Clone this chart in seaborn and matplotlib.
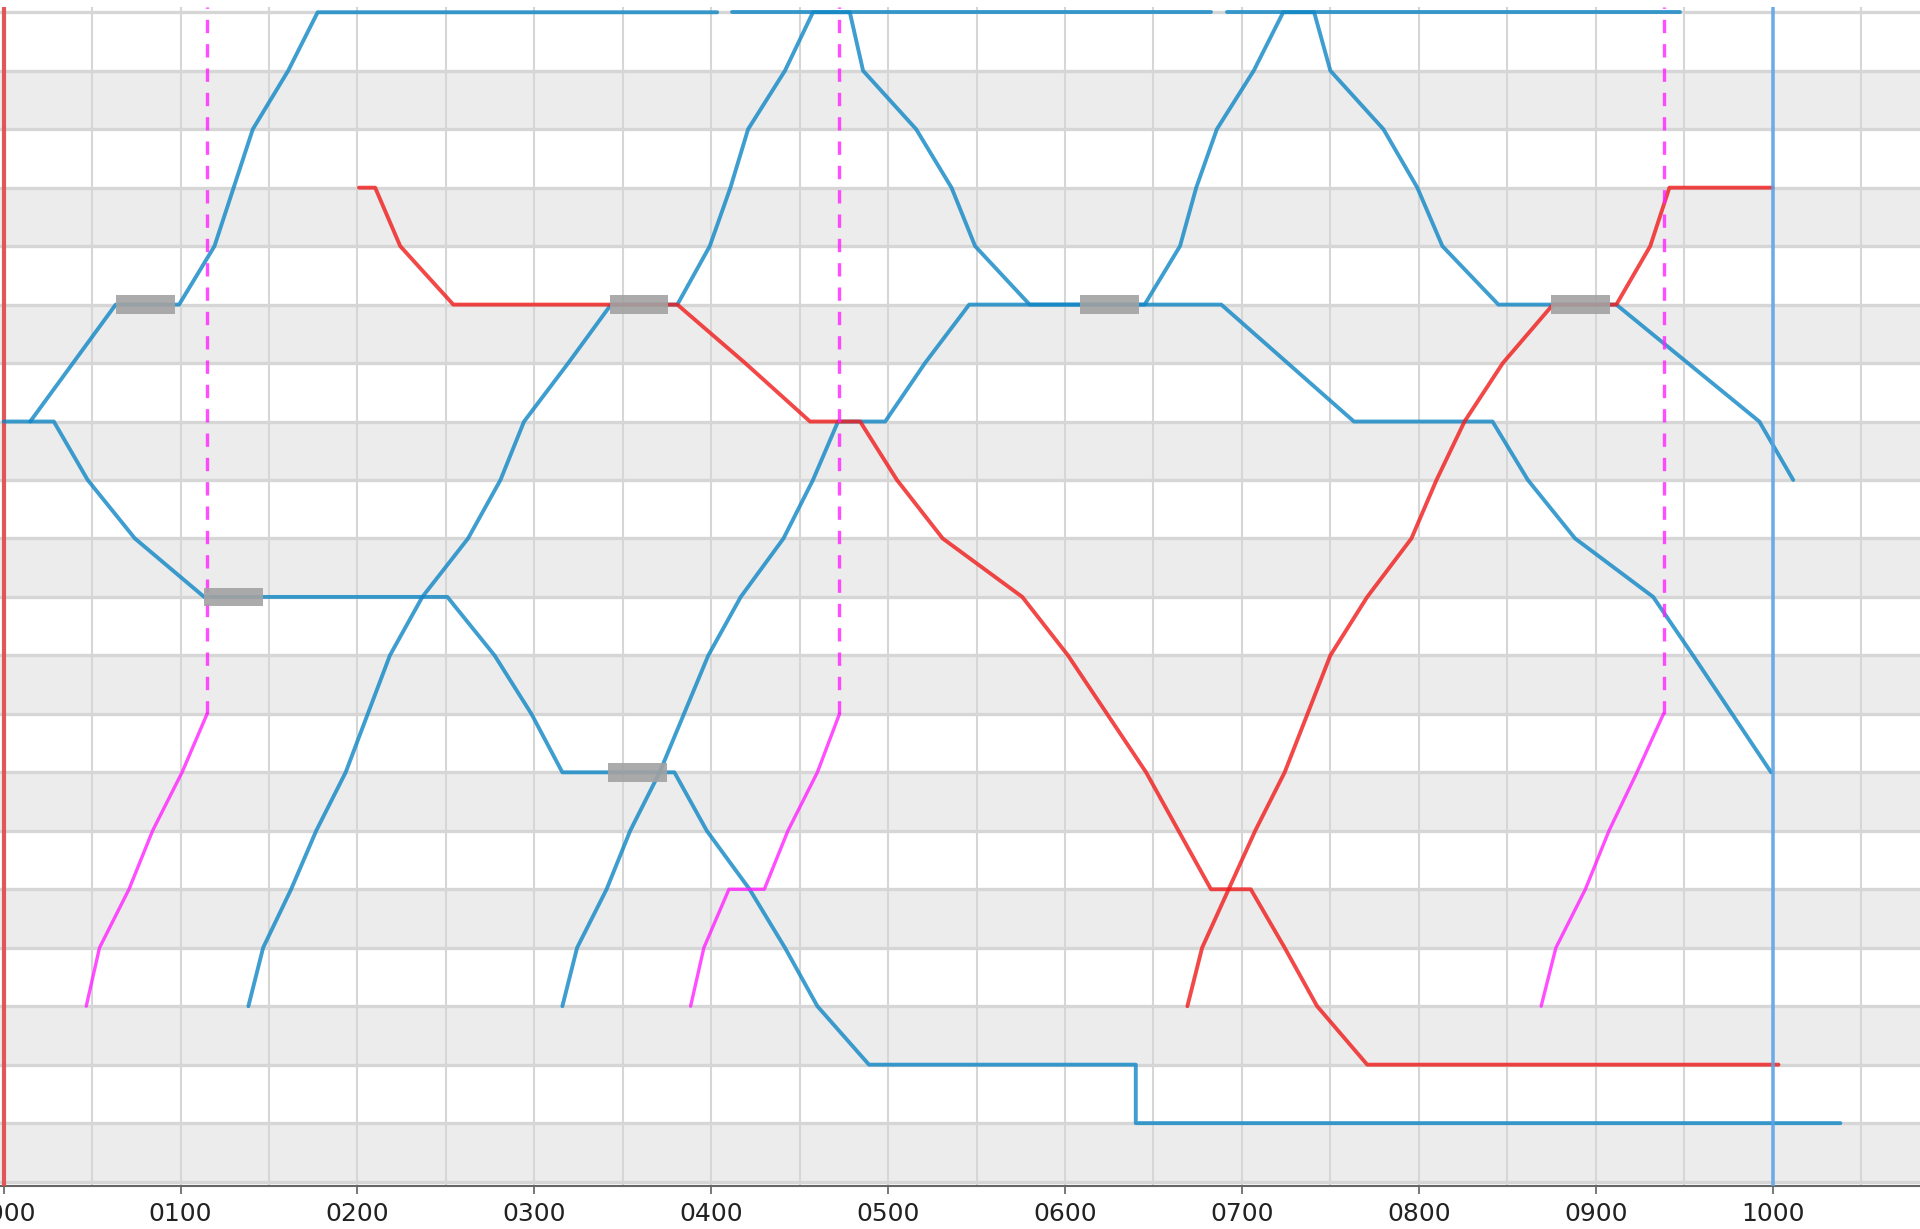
import matplotlib.pyplot as plt
import pandas as pd
import seaborn as sns
from matplotlib.ticker import FuncFormatter, MultipleLocator

# Train graph data: time in minutes after 0000, station index 0 (top) .. 20 (bottom)
B1_T = [9, 38, 59.5, 71.5, 78, 84.5, 96.5, 106.5, 242]
B1_K = [7, 5, 5, 4, 3, 2, 1, 0, 0]

B2_T = [0, 17, 28.5, 44.5, 68, 150.5, 166.5, 179, 189.5, 227.5, 238.5, 253, 265, 276,
        293.5, 384, 384, 623]
B2_K = [7, 7, 8, 9, 10, 10, 11, 12, 13, 13, 14, 15, 16, 17, 18, 18, 19, 19]

B3_T = [83, 88, 97.5, 106, 116, 131, 142, 157.5, 168.5, 176.5, 191.5, 206, 228.5,
        239.5, 246.5, 252.5, 265, 274.5, 287, 291.5, 309.5, 321.5, 329.5, 348, 387,
        399, 404.5, 411.5, 424, 434, 444.5, 450, 468, 479.5, 488, 507, 547, 595.5, 607]
B3_K = [17, 16, 15, 14, 13, 11, 10, 9, 8, 7, 6, 5, 5,
        4, 3, 2, 1, 0, 0, 1, 2, 3, 4, 5, 5,
        4, 3, 2, 1, 0, 0, 1, 2, 3, 4, 5, 5, 7, 8]

B4_T = [189.5, 194.5, 204.5, 212.5, 222.5, 239, 250, 264.5, 274.5, 283, 299, 312.5,
        327.5, 413, 458, 505, 517, 533, 559.5, 573, 599.5]
B4_K = [17, 16, 15, 14, 13, 11, 10, 9, 8, 7, 7, 6, 5, 5, 7, 7, 8, 9, 10, 11, 13]

B5_T = [247, 409.5]
B5_K = [0, 0]
B6_T = [415, 568.5]
B6_K = [0, 0]

R1_T = [120.5, 126, 134.5, 152.5, 228.5, 251.5, 273.5, 290.5, 303, 318.5, 345.5, 361,
        387.5, 398.5, 409.5, 423, 434.5, 445.5, 462.5, 602]
R1_K = [3, 3, 4, 5, 5, 6, 7, 7, 8, 9, 10, 11, 13, 14, 15, 15, 16, 17, 18, 18]

R2_T = [401.5, 406.5, 415.5, 424.5, 434.5, 450, 462.5, 477.5, 486, 495.5, 508.5, 525.5,
        547, 558.5, 565, 600]
R2_K = [17, 16, 15, 14, 13, 11, 10, 9, 8, 7, 6, 5, 5, 4, 3, 3]

M1_T = [28, 32.5, 42.5, 50.5, 60.5, 69]
M1_K = [17, 16, 15, 14, 13, 12]
M2_T = [233, 237.5, 246, 258, 266, 276, 283.5]
M2_K = [17, 16, 15, 15, 14, 13, 12]
M3_T = [521.5, 526.5, 536.5, 544.5, 554, 563]
M3_K = [17, 16, 15, 14, 13, 12]

# grey dwell blocks (start minute, station)
BLOCK_START = [38, 68, 205.5, 205, 365, 525]
BLOCK_K = [5, 10, 5, 13, 5, 5]
BLOCK_LEN = 20

START_T = 0
END_T = 600
N_STATIONS = 20

trains = {
    'B1': ('blue', B1_T, B1_K), 'B2': ('blue', B2_T, B2_K),
    'B3': ('blue', B3_T, B3_K), 'B4': ('blue', B4_T, B4_K),
    'B5': ('blue', B5_T, B5_K), 'B6': ('blue', B6_T, B6_K),
    'R1': ('red', R1_T, R1_K), 'R2': ('red', R2_T, R2_K),
    'M1': ('magenta', M1_T, M1_K), 'M2': ('magenta', M2_T, M2_K),
    'M3': ('magenta', M3_T, M3_K),
}
rows = []
for name, (kind, ts, ks) in trains.items():
    for t, k in zip(ts, ks):
        rows.append({'train': name, 'kind': kind, 't': t, 'k': k})
df = pd.DataFrame(rows)

palette = {'blue': '#0f86c5', 'red': '#f11a1a', 'magenta': '#ff20ff'}

sns.set_theme(style='white')
plt.rcParams['font.family'] = ['DejaVu Sans']

fig = plt.figure(figsize=(19.2, 12.29), dpi=100)
ax = fig.add_axes([0, 0.035, 1, 0.9595])

y_top = -0.094
ax.set_xlim(-1.25, 650)
ax.set_ylim(N_STATIONS + 0.075, y_top)

# alternating bands
for k in range(1, N_STATIONS, 2):
    ax.axhspan(k, k + 1, color='#ececec', zorder=0, lw=0)

ax.set_axisbelow(True)
ax.set_yticks(range(N_STATIONS + 1))
ax.xaxis.set_major_locator(MultipleLocator(60))
ax.xaxis.set_minor_locator(MultipleLocator(30))
ax.xaxis.set_major_formatter(FuncFormatter(lambda v, p: f'{int(round(v)) // 60:02d}00'))
ax.grid(axis='y', color='#d6d6d6', lw=2.4)
ax.grid(axis='x', which='both', color='#d6d6d6', lw=1.5)

ax.axvline(START_T, color='#e04848', lw=3.0, alpha=0.9, zorder=3)

solid = df[df['kind'] != 'magenta']
sns.lineplot(data=solid, x='t', y='k', hue='kind', units='train', estimator=None,
             sort=False, palette=palette, lw=2.8, alpha=0.8, legend=False, ax=ax, zorder=3)
pink = df[df['kind'] == 'magenta']
sns.lineplot(data=pink, x='t', y='k', hue='kind', units='train', estimator=None,
             sort=False, palette=palette, lw=2.4, alpha=0.8, legend=False, ax=ax, zorder=3)

# dashed continuation of the magenta runs
for ts, ks in [(M1_T, M1_K), (M2_T, M2_K), (M3_T, M3_K)]:
    ax.vlines(ts[-1], ks[-1], y_top, colors='#ff20ff', alpha=0.8, lw=2.4,
              linestyles=(0, (4, 3.3)), zorder=3)

ax.barh(BLOCK_K, BLOCK_LEN, left=BLOCK_START, height=0.32, align='center',
        color='#a2a2a2', alpha=0.9, lw=0, zorder=4)

ax.axvline(END_T, color='#5aa4ea', lw=2.6, alpha=0.85, zorder=5)

ax.set_xlabel('')
ax.set_ylabel('')
ax.tick_params(axis='y', left=False, labelleft=False)
ax.tick_params(axis='x', which='major', length=5.8, width=1.4, color='#777777',
               labelsize=18, labelcolor='#222222', pad=5.5, bottom=True)
ax.tick_params(axis='x', which='minor', length=0)
for side in ['top', 'right', 'left']:
    ax.spines[side].set_visible(False)
ax.spines['bottom'].set_color('#666666')
ax.spines['bottom'].set_linewidth(1.5)

fig.savefig('out.png', dpi=100)
